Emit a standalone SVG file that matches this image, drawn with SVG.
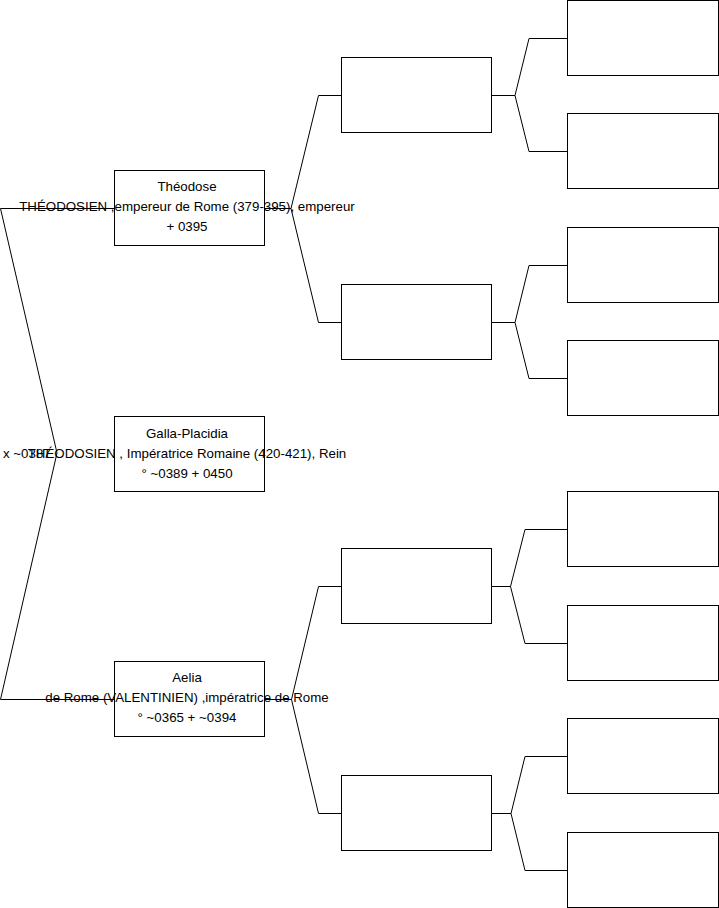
<svg xmlns="http://www.w3.org/2000/svg" width="719" height="908" viewBox="0 0 719 908">
<style>
.box{fill:#fff;stroke:#000;stroke-width:1}
.ln{fill:none;stroke:#000;stroke-width:1}
text{font-family:"Liberation Sans",Arial,sans-serif;font-size:13.3px;fill:#000}
.c{text-anchor:middle}
</style>
<rect width="719" height="908" fill="#fff"/>
<g id="connectors">
<polyline class="ln" points="114,208.5 0.5,208.5 57,453 0.5,699.5 114,699.5"/>
<polyline class="ln" points="341,95.5 318.5,95.5 291,208.5 265,208.5"/>
<polyline class="ln" points="291,208.5 318.5,322.5 341,322.5"/>
<polyline class="ln" points="341,586.5 318.5,586.5 291.5,699.5 265,699.5"/>
<polyline class="ln" points="291.5,699.5 318.5,813.5 341,813.5"/>
<polyline class="ln" points="567,38.5 529,38.5 515,95.5 492,95.5"/>
<polyline class="ln" points="515,95.5 529,151.5 567,151.5"/>
<polyline class="ln" points="567,265.5 529,265.5 515,322.5 492,322.5"/>
<polyline class="ln" points="515,322.5 529,378.5 567,378.5"/>
<polyline class="ln" points="567,529.5 525,529.5 510.5,586.5 492,586.5"/>
<polyline class="ln" points="510.5,586.5 525,643.5 567,643.5"/>
<polyline class="ln" points="567,756.5 525,756.5 511,813.5 492,813.5"/>
<polyline class="ln" points="511,813.5 525,870.5 567,870.5"/>
</g>
<g id="n_theodose">
<rect class="box" x="114.5" y="170.5" width="150" height="75"/>
<text class="c" x="187" y="191">Théodose</text>
<text class="c" x="187" y="211">THÉODOSIEN ,empereur de Rome (379-395), empereur</text>
<text class="c" x="187" y="231">+ 0395</text>
</g>
<g id="n_galla">
<rect class="box" x="114.5" y="416.5" width="150" height="75"/>
<text class="c" x="187" y="438">Galla-Placidia</text>
<text class="c" x="187" y="458">THÉODOSIEN , Impératrice Romaine (420-421), Rein</text>
<text class="c" x="187" y="478">° ~0389 + 0450</text>
</g>
<g id="n_marriage">
<text x="3" y="458">x ~0387</text>
</g>
<g id="n_aelia">
<rect class="box" x="114.5" y="661.5" width="150" height="75"/>
<text class="c" x="187" y="682">Aelia</text>
<text class="c" x="187" y="702">de Rome (VALENTINIEN) ,impératrice de Rome</text>
<text class="c" x="187" y="722">° ~0365 + ~0394</text>
</g>
<g id="n_f1"><rect class="box" x="341.5" y="57.5" width="150" height="75"/></g>
<g id="n_m1"><rect class="box" x="341.5" y="284.5" width="150" height="75"/></g>
<g id="n_f2"><rect class="box" x="341.5" y="548.5" width="150" height="75"/></g>
<g id="n_m2"><rect class="box" x="341.5" y="775.5" width="150" height="75"/></g>
<g id="n_g1"><rect class="box" x="567.5" y="0.5" width="151" height="75"/></g>
<g id="n_g2"><rect class="box" x="567.5" y="113.5" width="151" height="75"/></g>
<g id="n_g3"><rect class="box" x="567.5" y="227.5" width="151" height="75"/></g>
<g id="n_g4"><rect class="box" x="567.5" y="340.5" width="151" height="75"/></g>
<g id="n_g5"><rect class="box" x="567.5" y="491.5" width="151" height="75"/></g>
<g id="n_g6"><rect class="box" x="567.5" y="605.5" width="151" height="75"/></g>
<g id="n_g7"><rect class="box" x="567.5" y="718.5" width="151" height="75"/></g>
<g id="n_g8"><rect class="box" x="567.5" y="832.5" width="151" height="75"/></g>
</svg>
